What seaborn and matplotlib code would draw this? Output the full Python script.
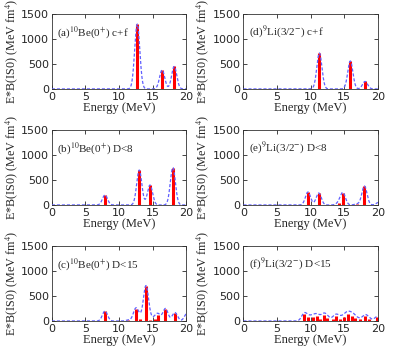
import numpy as np
import pandas as pd
import matplotlib
matplotlib.use("Agg")
import matplotlib.pyplot as plt
import seaborn as sns

# stick strengths E*B(IS0) (energy in MeV, value in MeV fm^4)
be_cf_E = [12.7, 16.4, 18.2]
be_cf_B = [1300, 380, 450]

li_cf_E = [11.3, 15.9, 18.1]
li_cf_B = [720, 560, 150]

be_d8_E = [7.9, 13.0, 14.6, 18.0]
be_d8_B = [200, 700, 400, 750]

li_d8_E = [9.6, 11.2, 14.2, 14.8, 16.9, 18.0, 20.2]
li_d8_B = [260, 240, 40, 240, 20, 380, 60]

be_d15_E = [7.9, 11.4, 12.5, 13.1, 14.0, 14.6, 15.3, 15.8, 16.9, 18.3, 20.1]
be_d15_B = [200, 20, 250, 50, 700, 30, 50, 130, 250, 170, 150]

li_d15_E = [9.0, 9.6, 10.3, 10.9, 11.4, 12.0, 12.5, 13.3, 13.8, 14.3, 14.9,
            15.5, 16.1, 16.6, 17.3, 18.1, 18.7, 19.9]
li_d15_B = [140, 80, 90, 100, 50, 120, 60, 40, 100, 50, 80,
            140, 110, 70, 40, 110, 50, 90]

labels = [r"(a)$^{10}$Be(0$^{+}$) c+f", r"(d)$^{9}$Li(3/2$^{-}$) c+f",
          r"(b)$^{10}$Be(0$^{+}$) D<8", r"(e)$^{9}$Li(3/2$^{-}$) D<8",
          r"(c)$^{10}$Be(0$^{+}$) D<15", r"(f)$^{9}$Li(3/2$^{-}$) D<15"]
sticks = [(be_cf_E, be_cf_B), (li_cf_E, li_cf_B),
          (be_d8_E, be_d8_B), (li_d8_E, li_d8_B),
          (be_d15_E, be_d15_B), (li_d15_E, li_d15_B)]

sigma = 0.38  # smearing width of the dashed curve (MeV)

sns.set_style("ticks")
plt.rcParams['font.family'] = ['DejaVu Sans']
plt.rcParams['mathtext.fontset'] = 'stix'
serif = ['Liberation Serif', 'DejaVu Serif']

fig, axes = plt.subplots(3, 2, figsize=(3.99, 3.52), dpi=100)
fig.subplots_adjust(left=0.130, right=0.947, top=0.960, bottom=0.088,
                    wspace=0.425, hspace=0.55)

grid = np.linspace(0, 20, 801)
for ax, lab, (E, B) in zip(axes.flat, labels, sticks):
    E = np.array(E)
    B = np.array(B)
    curve = (B[None, :] * np.exp(-(grid[:, None] - E[None, :]) ** 2 / (2 * sigma ** 2))).sum(axis=1)
    df = pd.DataFrame({'Energy': grid, 'S': curve})
    ax.vlines(E, 0, B, color='red', lw=2.2, zorder=2)
    sns.lineplot(data=df, x='Energy', y='S', ax=ax, color='#6060ff',
                 lw=0.9, linestyle=(0, (2.5, 1.5)), zorder=3)
    ax.set_xlim(0, 20)
    ax.set_ylim(0, 1500)
    ax.set_xticks([0, 5, 10, 15, 20])
    ax.set_yticks([0, 500, 1000, 1500])
    ax.tick_params(direction='in', top=True, right=True, length=3,
                   width=0.6, labelsize=8, pad=2)
    for sp in ax.spines.values():
        sp.set_linewidth(0.6)
        sp.set_color('#333333')
    ax.set_xlabel('Energy (MeV)', family=serif, fontsize=9, labelpad=0)
    ax.set_ylabel(r'E*B(IS0) (MeV fm$^{4}$)', family=serif, fontsize=8.7, labelpad=1)
    ax.text(0.04, 0.76, lab, transform=ax.transAxes, family=serif,
            fontsize=8, ha='left', va='center')

fig.savefig('out.png', dpi=100)
